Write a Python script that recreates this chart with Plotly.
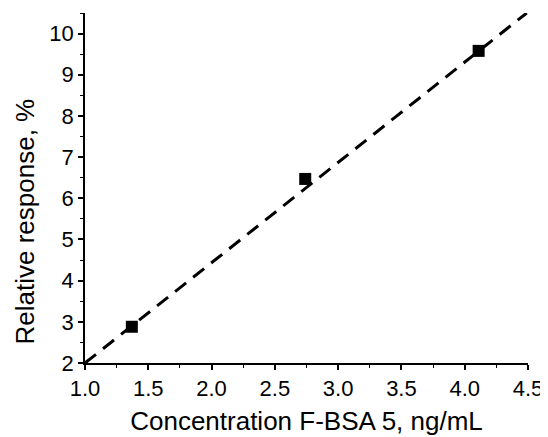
import plotly.graph_objects as go

conc = [1.37, 2.74, 4.11]
response = [2.88, 6.47, 9.58]
fit_x = [1.0, 4.49]
fit_y = [2.0, 10.5]
x_ticks = [1.0, 1.5, 2.0, 2.5, 3.0, 3.5, 4.0, 4.5]
x_tick_text = ["1.0", "1.5", "2.0", "2.5", "3.0", "3.5", "4.0", "4.5"]
y_ticks = [2, 3, 4, 5, 6, 7, 8, 9, 10]

fig = go.Figure()
fig.add_trace(go.Scatter(x=fit_x, y=fit_y, mode="lines",
                         line=dict(color="black", width=3, dash="14px,9px"),
                         showlegend=False, hoverinfo="skip"))
fig.add_trace(go.Scatter(x=conc, y=response, mode="markers",
                         marker=dict(symbol="square", size=12, color="black"),
                         showlegend=False))

font = "Liberation Sans, Arial, sans-serif"
fig.update_layout(
    width=540, height=429,
    margin=dict(l=77, r=18, t=5, b=74),
    plot_bgcolor="white", paper_bgcolor="white",
    font=dict(family=font, color="black"),
    xaxis=dict(range=[1.0, 4.5], tickvals=x_ticks, ticktext=x_tick_text,
               showgrid=False, zeroline=False, showline=True, linecolor="black", linewidth=1.5,
               ticks="outside", ticklen=5, tickwidth=1.5, tickcolor="black",
               tickfont=dict(size=22, family=font),
               minor=dict(ticks="outside", ticklen=3, tickwidth=1.2, tickcolor="black", dtick=0.25, showgrid=False),
               title=dict(text="Concentration F-BSA 5, ng/mL", font=dict(size=26, family=font), standoff=12)),
    yaxis=dict(range=[2, 10.5], tickvals=y_ticks,
               showgrid=False, zeroline=False, showline=True, linecolor="black", linewidth=1.5,
               ticks="outside", ticklen=5, tickwidth=1.5, tickcolor="black",
               tickfont=dict(size=22, family=font),
               minor=dict(ticks="outside", ticklen=3, tickwidth=1.2, tickcolor="black", dtick=0.5, showgrid=False)),
    annotations=[dict(text="Relative response, %", textangle=-90, xref="paper", yref="paper",
                      x=-0.135, y=0.405, xanchor="center", yanchor="middle", showarrow=False,
                      font=dict(size=26, family=font, color="black"))],
)
fig.write_html("out.html")
